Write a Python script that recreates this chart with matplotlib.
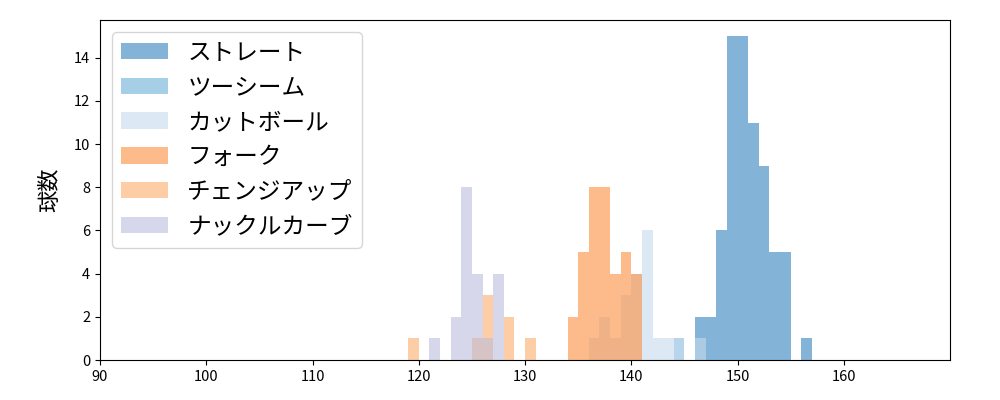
import numpy as np
import matplotlib
matplotlib.use('Agg')
import matplotlib.pyplot as plt

plt.rcParams['font.family'] = ['Noto Sans CJK JP', 'DejaVu Sans']

# 球種ごとの球速分布 (km/h のビン左端, 球数)
pitch_names = ['ストレート', 'ツーシーム', 'カットボール', 'フォーク', 'チェンジアップ', 'ナックルカーブ']
colors = ['#3182bd', '#6baed6', '#c6dbef', '#fd8d3c', '#fdae6b', '#bcbddc']

straight_speed = [146, 147, 148, 149, 150, 151, 152, 153, 154, 156]
straight_count = [2, 2, 6, 15, 15, 11, 9, 5, 5, 1]

twoseam_speed = [144]
twoseam_count = [1]

cutter_speed = [136, 137, 138, 139, 140, 141, 142, 143, 144, 146]
cutter_count = [1, 2, 1, 3, 4, 6, 1, 1, 1, 1]

fork_speed = [134, 135, 136, 137, 138, 139, 140]
fork_count = [2, 5, 8, 8, 4, 5, 4]

changeup_speed = [119, 125, 126, 128, 130]
changeup_count = [1, 1, 3, 2, 1]

kcurve_speed = [121, 123, 124, 125, 126, 127]
kcurve_count = [1, 2, 8, 4, 1, 4]

speeds = [straight_speed, twoseam_speed, cutter_speed, fork_speed, changeup_speed, kcurve_speed]
counts = [straight_count, twoseam_count, cutter_count, fork_count, changeup_count, kcurve_count]

fig, ax = plt.subplots(figsize=(10, 4), dpi=100)
for name, c, s, n in zip(pitch_names, colors, speeds, counts):
    ax.bar(s, n, width=1, align='edge', color=c, alpha=0.6, label=name)

ax.set_xlim(90, 170)
ax.set_ylim(0, 15.75)
ax.set_xticks(np.arange(90, 170, 10))
ax.set_yticks(np.arange(0, 15, 2))
ax.tick_params(labelsize=10.5)
ax.set_ylabel('球数', fontsize=16, labelpad=9)
ax.legend(loc='upper left', fontsize=17)
plt.subplots_adjust(left=0.1, right=0.95, top=0.95, bottom=0.1)
plt.savefig('out.png')
